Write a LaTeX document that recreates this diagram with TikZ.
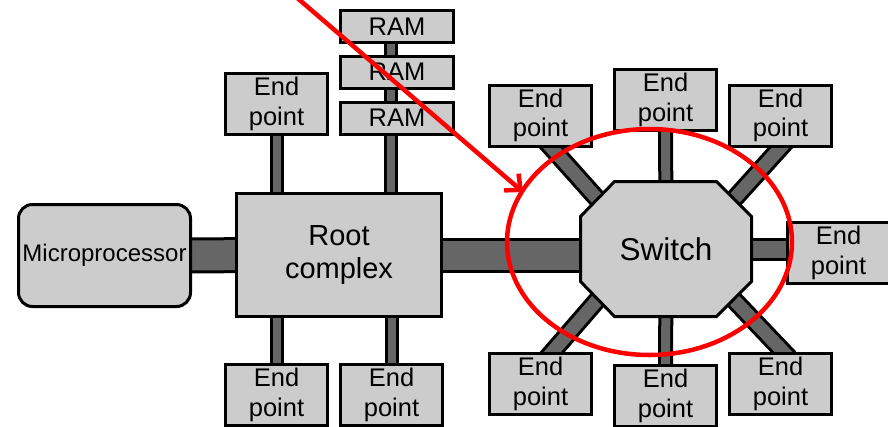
\documentclass[tikz,border=0pt]{standalone}
\usepackage{fontspec}
\setmainfont{Liberation Sans}
\usetikzlibrary{positioning,calc,backgrounds,arrows.meta}
\definecolor{boxgray}{HTML}{CCCCCC}
\definecolor{linkgray}{HTML}{666666}

\begin{document}
\begin{tikzpicture}[x=1pt,y=1pt,
  box/.style={draw=black,line width=3pt,fill=boxgray,inner sep=0pt,
    outer sep=0pt,align=center,text=black},
  endpt/.style={box,minimum width=102pt,minimum height=61pt,
    font=\fontsize{25.5}{29.5}\selectfont},
  ram/.style={box,minimum width=113pt,minimum height=32pt,
    font=\fontsize{25.5}{29}\selectfont},
  link/.style={draw=black,line width=3pt,double=linkgray,double distance=#1},
  link/.default=8pt,
  redline/.style={draw=red,line width=4.5pt}]

\path[use as bounding box,clip] (0,0) rectangle (888,-426);

% Host side.
\node[box,rounded corners=14pt,minimum width=172pt,minimum height=102pt,
  font=\fontsize{24}{29}\selectfont] (micro) at (104.5,-255.5) {Microprocessor};
\node[box,minimum width=205pt,minimum height=123pt,
  font=\fontsize{29}{32.5}\selectfont] (root) at (339,-255) {Root\\complex};

\node[ram] (ram1) at (397,-26.5) {RAM};
\node[ram] (ram2) at (397,-72) {RAM};
\node[ram] (ram3) at (397,-118) {RAM};

\node[endpt] (epA) at (276.5,-104) {End\\point};
\node[endpt] (epB) at (276.5,-395) {End\\point};
\node[endpt] (epC) at (391.5,-395) {End\\point};

% Switch and its end points.
\node[inner sep=0pt,outer sep=0pt,minimum width=171pt,minimum height=135pt,
  font=\fontsize{31.5}{36}\selectfont] (switch) at (666,-249) {Switch};

\node[endpt] (swTL) at (540.5,-115.5) {End\\point};
\node[endpt] (swT)  at (665.5,-100)   {End\\point};
\node[endpt] (swTR) at (780.5,-115.5) {End\\point};
\node[endpt] (swR)  at (838.5,-253)   {End\\point};
\node[endpt] (swBL) at (540.5,-384)   {End\\point};
\node[endpt] (swB)  at (665.5,-396)   {End\\point};
\node[endpt] (swBR) at (780.5,-384)   {End\\point};

% Faces of the octagon.
\coordinate (fNW) at ($(switch.center)+(-70,51.5)$);
\coordinate (fNE) at ($(switch.center)+(69.5,51.5)$);
\coordinate (fSW) at ($(switch.center)+(-70,-52.5)$);
\coordinate (fSE) at ($(switch.center)+(69.5,-52.5)$);

\begin{pgfonlayer}{background}
  % Links.
  \draw[link=30pt] (micro) -- (root);
  \draw[link=29pt] (root) -- (root -| switch);
  \draw[link=17pt] (switch) -- (switch -| swR);

  \draw[link] (epA) -- (epA |- root);
  \draw[link] (epB) -- (epB |- root);
  \draw[link] (epC) -- (epC |- root);
  \draw[link] ([xshift=-6pt]ram1.center) -- ([xshift=-6pt]ram3.center);
  \draw[link] ([xshift=-6pt]ram3.center) -- ([xshift=-6pt]ram3.center |- root);

  \draw[link=9pt] (swT) -- (switch);
  \draw[link=9pt] (swB) -- (switch);
  \draw[link=13pt,shorten <=-6pt,shorten >=-10pt]
    ([xshift=9.5pt]swTL.south) -- (fNW);
  \draw[link=13pt,shorten <=-6pt,shorten >=-10pt]
    ([xshift=1.5pt]swTR.south) -- (fNE);
  \draw[link=13pt,shorten <=-6pt,shorten >=-10pt]
    ([xshift=10.5pt]swBL.north) -- (fSW);
  \draw[link=13pt,shorten <=-6pt,shorten >=-10pt]
    ([xshift=4.5pt]swBR.north) -- (fSE);

  % Octagon body.
  \draw[line width=3pt,fill=boxgray]
    ([xshift=34pt]switch.north west) -- ([xshift=-35pt]switch.north east)
    -- ([yshift=-35pt]switch.north east) -- ([yshift=35pt]switch.south east)
    -- ([xshift=-35pt]switch.south east) -- ([xshift=34pt]switch.south west)
    -- ([yshift=35pt]switch.south west) -- ([yshift=-35pt]switch.north west)
    -- cycle;
\end{pgfonlayer}

% Red highlight.
\draw[redline] (649.5,-242) ellipse [x radius=142.5, y radius=113];
\coordinate (tail) at (288,10);
\coordinate (tip) at (523,-192);
\draw[redline,-{Straight Barb[length=12pt,width=22pt]}] (tail) -- (tip);

\end{tikzpicture}
\end{document}
